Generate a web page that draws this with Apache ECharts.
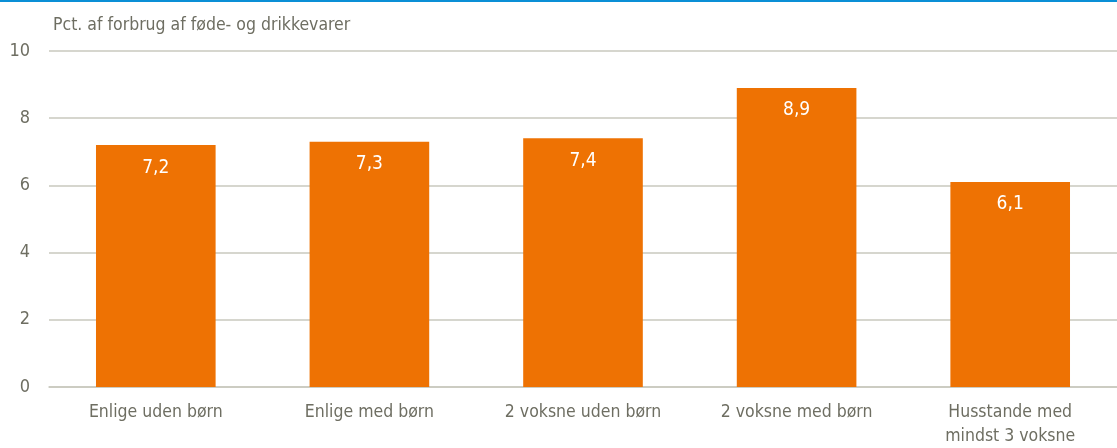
<!DOCTYPE html>
<html lang="da">
<head>
	<meta charset="UTF-8">
	<title>Forbrug</title>
	<style>
		*{margin: 0; padding: 0; box-sizing: border-box;}
		body{background: #fff;}
		#view{
			width: 1117px;
			height: 448px;
			border-top: 2px solid #0a8fd6;
		}
	</style>
</head>
<body>
	<div id="view"></div>
	<script src="https://cdn.jsdelivr.net/npm/echarts@6/dist/echarts.min.js"></script>
	<script>
	// husstandstyper og andel
	const kategorier = ['Enlige uden børn', 'Enlige med børn', '2 voksne uden børn', '2 voksne med børn', 'Husstande med\nmindst 3 voksne'];
	const andel = [7.2, 7.3, 7.4, 8.9, 6.1];
	const yTicks = [0, 2, 4, 6, 8, 10];

	const font = '"Liberation Sans Narrow", "Arial Narrow", "DejaVu Sans Condensed", sans-serif';
	const grey = '#6e6e62';

	let option = {
		animation: false,
		title: {
			text: 'Pct. af forbrug af føde- og drikkevarer',
			left: 48, top: 9,
			textStyle: {fontFamily: font, fontSize: 17.5, fontWeight: 'normal', color: grey}
		},
		grid: {left: 49, right: 0, top: 49, bottom: 59},
		xAxis: {
			type: 'category',
			data: kategorier,
			axisLine: {lineStyle: {color: '#c9c9be', width: 1.5}},
			axisTick: {show: false},
			axisLabel: {interval: 0, fontFamily: font, fontSize: 17.5, color: grey, margin: 13, lineHeight: 24}
		},
		yAxis: {
			type: 'value',
			min: yTicks[0],
			max: yTicks[yTicks.length - 1],
			interval: 2,
			axisLine: {show: false},
			axisTick: {show: false},
			splitLine: {lineStyle: {color: '#c9c9be', width: 1.5}},
			axisLabel: {fontFamily: font, fontSize: 18, color: grey, margin: 19}
		},
		series: [{
			type: 'bar',
			data: andel,
			barWidth: '56%',
			itemStyle: {color: '#ee7203'},
			label: {
				show: true,
				position: 'insideTop',
				distance: 13,
				fontFamily: font,
				fontSize: 19,
				color: '#fff',
				formatter: function (p) { return p.value.toFixed(1).replace('.', ','); }
			}
		}]
	};
	var myChart = echarts.init(document.getElementById('view'));
	myChart.setOption(option);
	</script>
</body>
</html>
